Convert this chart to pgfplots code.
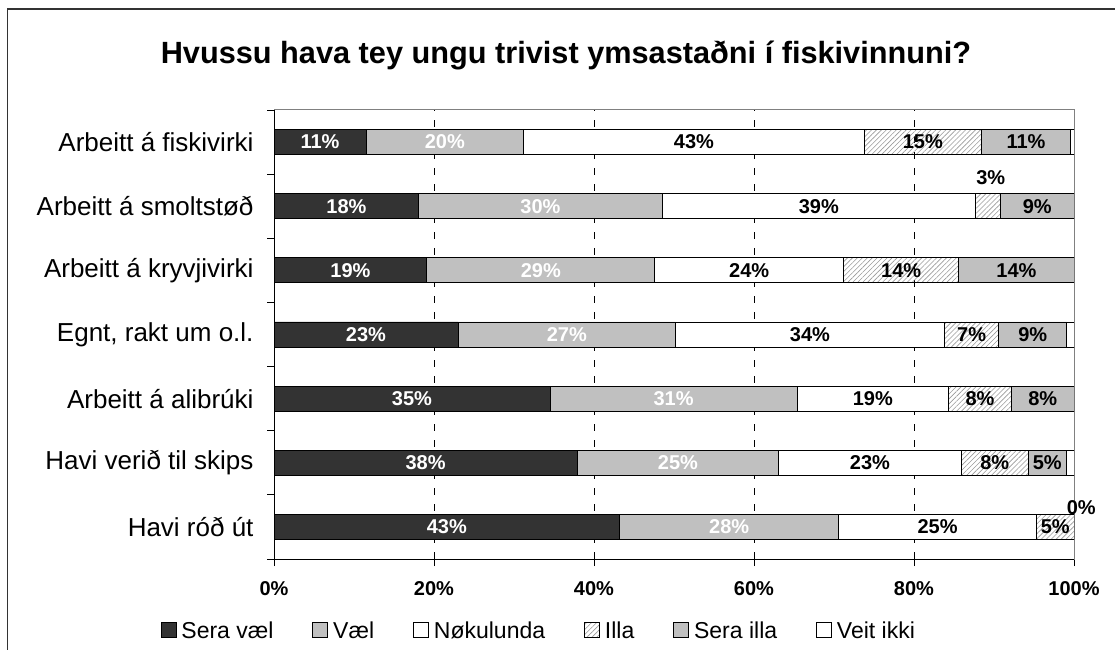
\documentclass[border=0pt]{standalone}
\usepackage{fontspec}
\setmainfont{Liberation Sans}
\usepackage{pgfplots}
\pgfplotsset{compat=1.18}
\usetikzlibrary{patterns.meta}
\definecolor{dark}{HTML}{333333}
\definecolor{lgray}{HTML}{C0C0C0}
\begin{document}
\begin{tikzpicture}
\useasboundingbox (0,0) rectangle (1115bp,650bp);
\draw[line width=1.5bp, black!80] (7.5bp,0) -- (7.5bp,641bp) -- (1115bp,641bp);
\node[font=\bfseries\fontsize{30.7bp}{36bp}\selectfont, anchor=base] at (566bp,586bp) {Hvussu hava tey ungu trivist ymsastaðni í fiskivinnuni?};
\begin{axis}[name=ax, at={(274bp,91bp)}, anchor=south west, scale only axis,
  width=800bp, height=449bp,
  xbar stacked, bar width=25bp,
  xmin=0, xmax=100, ymin=-0.5, ymax=6.5,
  xtick={0,20,40,60,80,100},
  xticklabels={0\%,20\%,40\%,60\%,80\%,100\%},
  xticklabel style={font=\bfseries\fontsize{20bp}{24bp}\selectfont, yshift=-12bp},
  ytick={0,...,6},
  yticklabels={Havi róð út, Havi verið til skips, Arbeitt á alibrúki, {Egnt, rakt um o.l.}, Arbeitt á kryvjivirki, Arbeitt á smoltstøð, Arbeitt á fiskivirki},
  yticklabel style={font=\fontsize{26bp}{30bp}\selectfont, xshift=-10bp},
  minor ytick={-0.5,0.5,...,6.5},
  tick align=outside, major tick length=7bp, minor tick length=7bp,
  xtick pos=bottom, ytick pos=left,
  major y tick style={draw=none},
  minor y tick style={black, line width=0.8bp},
  x tick style={black, line width=0.8bp},
  axis line style={gray, line width=1bp},
  xmajorgrids,
  x grid style={black, line width=0.7bp, dash pattern=on 7bp off 9bp},
  legend style={draw=none, fill=none, at={(0.331,-0.160)}, anchor=center,
    font=\fontsize{23bp}{27bp}\selectfont,
    /tikz/every odd column/.append style={column sep=3bp},
    /tikz/every even column/.append style={column sep=37bp}},
  legend columns=6,
  legend image code/.code={\draw[#1,draw=black,line width=0.8bp] (0bp,-7bp) rectangle (15bp,8bp);},
]
\addplot[fill=dark, draw=black, line width=0.8bp] coordinates {(43.2,0) (37.9,1) (34.5,2) (23.0,3) (19.1,4) (18.1,5) (11.5,6)};
\addlegendentry{Sera væl}
\addplot[fill=lgray, draw=black, line width=0.8bp] coordinates {(27.4,0) (25.2,1) (30.9,2) (27.2,3) (28.5,4) (30.4,5) (19.7,6)};
\addlegendentry{Væl}
\addplot[fill=white, draw=black, line width=0.8bp] coordinates {(24.7,0) (22.8,1) (18.9,2) (33.6,3) (23.6,4) (39.2,5) (42.6,6)};
\addlegendentry{Nøkulunda}
\addplot[pattern={Lines[angle=45,distance=3.5bp,line width=0.6bp]}, pattern color=gray!80, draw=black, line width=0.8bp] coordinates {(4.7,0) (8.4,1) (7.9,2) (6.8,3) (14.4,4) (3.1,5) (14.6,6)};
\addlegendentry{Illa}
\addplot[fill=lgray, draw=black, line width=0.8bp] coordinates {(0,0) (4.7,1) (7.8,2) (8.5,3) (14.4,4) (9.2,5) (11.2,6)};
\addlegendentry{Sera illa}
\addplot[fill=white, draw=black, line width=0.8bp] coordinates {(0,0) (1.0,1) (0,2) (0.9,3) (0,4) (0,5) (0.4,6)};
\addlegendentry{Veit ikki}
\end{axis}
\draw[black, line width=0.9bp] (ax.north west) -- (ax.south west) -- (ax.south east);
\begin{axis}[at={(274bp,91bp)}, anchor=south west, scale only axis,
  width=800bp, height=449bp,
  xmin=0, xmax=100, ymin=-0.5, ymax=6.5, hide axis, clip=false]
\addplot[only marks, mark=*, mark size=0pt, mark options={draw=none,fill=none},
  point meta=explicit symbolic, nodes near coords={\pgfplotspointmeta\%},
  every node near coord/.append style={anchor=center, text=white, font=\bfseries\fontsize{20bp}{24bp}\selectfont}]
  table[meta=lab] {
x y lab
5.75 6 11
21.35 6 20
9.05 5 18
33.3 5 30
9.55 4 19
33.35 4 29
11.5 3 23
36.6 3 27
17.25 2 35
49.95 2 31
18.95 1 38
50.5 1 25
21.6 0 43
56.9 0 28
};
\addplot[only marks, mark=*, mark size=0pt, mark options={draw=none,fill=none},
  point meta=explicit symbolic, nodes near coords={\pgfplotspointmeta\%},
  every node near coord/.append style={anchor=center, text=black, font=\bfseries\fontsize{20bp}{24bp}\selectfont}]
  table[meta=lab] {
x y lab
52.5 6 43
81.1 6 15
94.0 6 11
68.1 5 39
89.6 5.45 3
95.4 5 9
59.4 4 24
78.4 4 14
92.8 4 14
67.0 3 34
87.2 3 7
94.85 3 9
74.85 2 19
88.25 2 8
96.1 2 8
74.5 1 23
90.1 1 8
96.65 1 5
82.95 0 25
97.65 0 5
100.9 0.3 0
};
\end{axis}
\end{tikzpicture}
\end{document}
